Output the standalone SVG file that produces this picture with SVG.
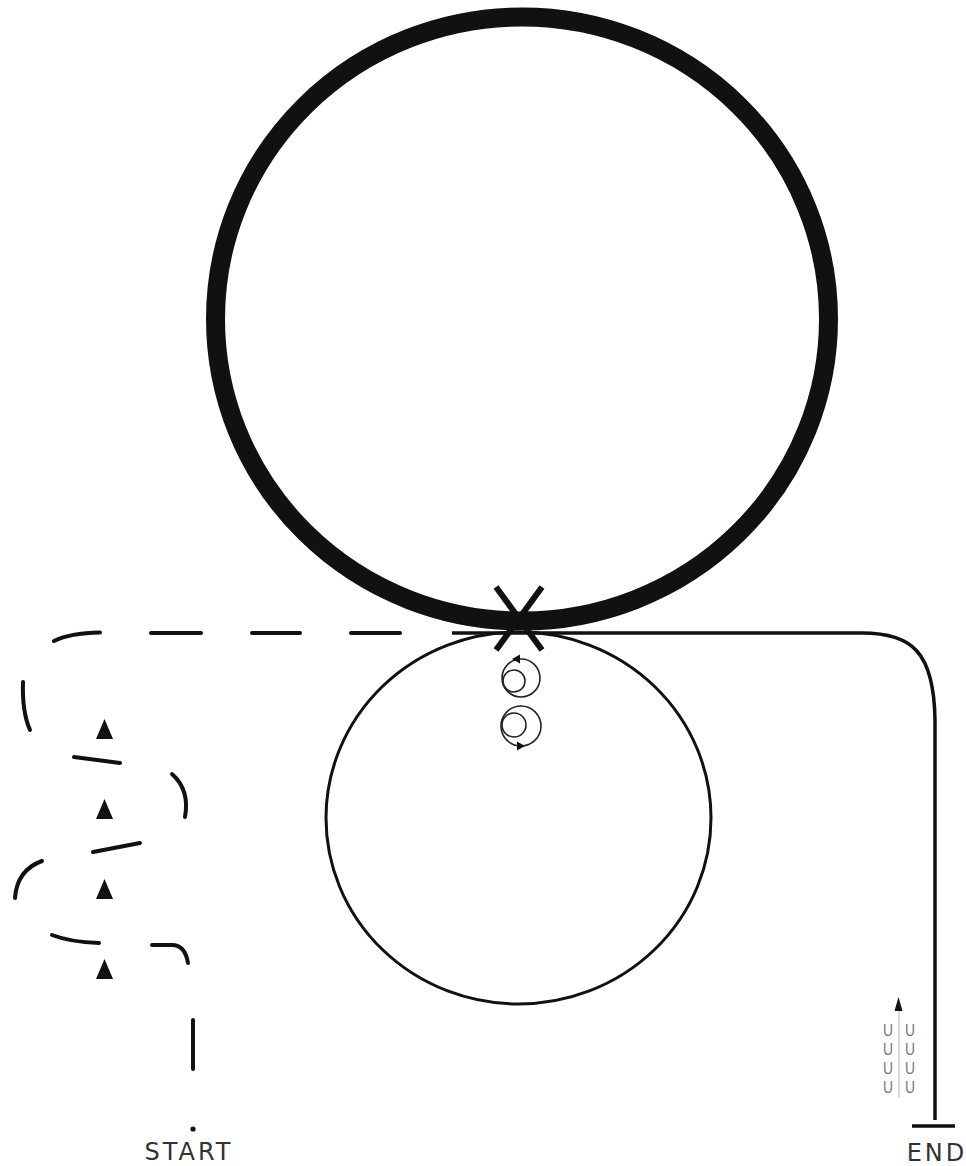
<svg xmlns="http://www.w3.org/2000/svg" width="966" height="1166" viewBox="0 0 966 1166">
<style>
.dash{fill:none;stroke:#111;stroke-width:4;stroke-linecap:round}
.conn{fill:none;stroke:#111;stroke-width:3.5}
.tri{fill:#111}
.icon{fill:none;stroke:#222;stroke-width:1.6}
.lbl{font-family:"DejaVu Sans","Liberation Sans",sans-serif;font-size:24px;fill:#333;text-anchor:middle;letter-spacing:3px}
.u{font-family:"Liberation Sans",sans-serif;font-size:17px;fill:#777;text-anchor:middle}
</style>
<rect width="966" height="1166" fill="#fff"/>
<g id="big-circle">
<ellipse cx="522" cy="319" rx="306.5" ry="302" fill="none" stroke="#111" stroke-width="19"/>
</g>
<g id="small-circle">
<ellipse cx="518.5" cy="818" rx="192.5" ry="186" fill="none" stroke="#111" stroke-width="3"/>
</g>
<g id="connectors">
<path class="conn" d="M452,633 H862 C912,633 934,652 935,720 V1120"/>
<path class="conn" d="M912,1126 H955"/>
<g id="dashed-path">
<path class="dash" d="M151,633 H201"/>
<path class="dash" d="M252,633 H300"/>
<path class="dash" d="M351,633 H400"/>
<path class="dash" d="M54,641 Q70,633 100,632.5"/>
<path class="dash" d="M23,682 Q22,712 30,730"/>
<path class="dash" d="M74,757 L120,763"/>
<path class="dash" d="M172,774 Q190,790 185,817"/>
<path class="dash" d="M93,852 L140,843"/>
<path class="dash" d="M42,861 Q17,870 15,898"/>
<path class="dash" d="M52,935 Q70,942 99,943"/>
<path class="dash" d="M152,945 H172 Q185,945 188,963"/>
<path class="dash" d="M193,1020 V1069"/>
<circle cx="193" cy="1129" r="2.6" fill="#111"/>
</g>
</g>
<g id="arrows-left">
<polygon class="tri" points="104.5,719 96,739 113,739"/>
<polygon class="tri" points="104.5,799 96,819 113,819"/>
<polygon class="tri" points="104.5,879 96,899 113,899"/>
<polygon class="tri" points="104.5,959 96,979 113,979"/>
</g>
<g id="x-mark">
<path d="M496,587 L542,650 M542,587 L496,650" stroke="#111" stroke-width="6" fill="none"/>
</g>
<g id="rotation-icons">
<circle class="icon" cx="521" cy="678" r="19"/>
<circle class="icon" cx="514" cy="681" r="11"/>
<polygon class="tri" points="512,659 520,654.5 520,663.5"/>
<circle class="icon" cx="521" cy="726" r="20"/>
<circle class="icon" cx="514" cy="725" r="12"/>
<polygon class="tri" points="525,746 517,741.5 517,750.5"/>
</g>
<g id="u-marks">
<line x1="899" y1="1010" x2="899" y2="1098" stroke="#ccc" stroke-width="1.5"/>
<polygon class="tri" points="898.5,997 894.5,1011 902.5,1011"/>
<text class="u" x="888" y="1036" textLength="10" lengthAdjust="spacingAndGlyphs">U</text>
<text class="u" x="910" y="1036" textLength="10" lengthAdjust="spacingAndGlyphs">U</text>
<text class="u" x="888" y="1055" textLength="10" lengthAdjust="spacingAndGlyphs">U</text>
<text class="u" x="910" y="1055" textLength="10" lengthAdjust="spacingAndGlyphs">U</text>
<text class="u" x="888" y="1074" textLength="10" lengthAdjust="spacingAndGlyphs">U</text>
<text class="u" x="910" y="1074" textLength="10" lengthAdjust="spacingAndGlyphs">U</text>
<text class="u" x="888" y="1093" textLength="10" lengthAdjust="spacingAndGlyphs">U</text>
<text class="u" x="910" y="1093" textLength="10" lengthAdjust="spacingAndGlyphs">U</text>
</g>
<g id="start-label">
<text class="lbl" x="189" y="1160">START</text>
</g>
<g id="end-label">
<text class="lbl" x="937" y="1161">END</text>
</g>
</svg>
